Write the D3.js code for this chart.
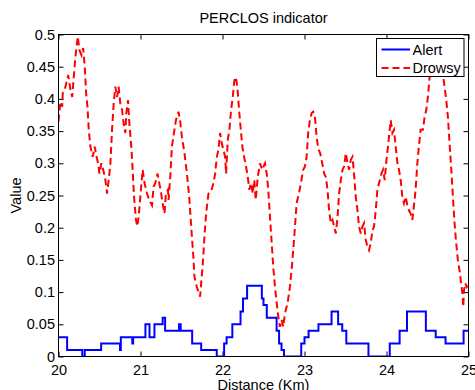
<!DOCTYPE html>
<html>
<head>
<meta charset="utf-8">
<script src="https://cdn.jsdelivr.net/npm/d3@7"></script>
<style>
  body { margin: 0; background: #fff; }
  text { font-family: "Liberation Sans", Arial, Helvetica, sans-serif; }
</style>
</head>
<body>
<svg id="chart"></svg>
<script>
const width = 475;
const height = 390;
const margin = {top: 34.5, right: 6.5, bottom: 33.5, left: 58.5};
const fontSize = "14.5px";

const titleText = "PERCLOS indicator";
const xLabel = "Distance (Km)";
const yLabel = "Value";
const seriesNames = ["Alert", "Drowsy"];
const xTicks = [20, 21, 22, 23, 24, 25];
const yTicks = [0, 0.05, 0.1, 0.15, 0.2, 0.25, 0.3, 0.35, 0.4, 0.45, 0.5];

// Alert: step function, value holds until the next km
const alertKm = [20.00, 20.105, 20.29, 20.32, 20.52, 20.75, 20.76, 20.90, 20.91, 21.06, 21.11, 21.17, 21.27, 21.30,
  21.47, 21.49, 21.63, 21.74, 21.93, 22.02, 22.05, 22.12, 22.22, 22.25, 22.30, 22.48, 22.50, 22.54, 22.66, 22.69,
  22.72, 22.75, 22.96, 23.00, 23.05, 23.17, 23.33, 23.41, 23.46, 23.51, 23.78, 24.04, 24.16, 24.25, 24.48, 24.60,
  24.72, 24.94, 25.00];
const alertVal = [0.03, 0.01, 0, 0.01, 0.02, 0.01, 0.03, 0.02, 0.03, 0.05, 0.03, 0.05, 0.06, 0.04,
  0.05, 0.04, 0.02, 0.01, 0, 0.02, 0.03, 0.05, 0.07, 0.09, 0.11, 0.09, 0.08, 0.06, 0.04, 0.02,
  0.01, 0, 0.02, 0.03, 0.04, 0.05, 0.07, 0.05, 0.04, 0.02, 0, 0.02, 0.04, 0.07, 0.04, 0.03,
  0.02, 0.04, 0.04];

const drowsyKm = [20.00, 20.024, 20.045, 20.052, 20.085, 20.118, 20.134, 20.146, 20.167, 20.186, 20.207, 20.235,
  20.255, 20.280, 20.300, 20.320, 20.337, 20.353, 20.369, 20.389, 20.417, 20.442, 20.459, 20.483, 20.499, 20.523,
  20.551, 20.572, 20.592, 20.612, 20.633, 20.653, 20.673, 20.693, 20.714, 20.733, 20.754, 20.775, 20.794, 20.815,
  20.827, 20.848, 20.864, 20.888, 20.904, 20.921, 20.945, 20.961, 20.977, 20.998, 21.026, 21.05, 21.079, 21.107,
  21.14, 21.16, 21.18, 21.208, 21.229, 21.253, 21.269, 21.293, 21.31, 21.335, 21.342, 21.363, 21.383, 21.408,
  21.432, 21.464, 21.484, 21.505, 21.536, 21.566, 21.594, 21.618, 21.642, 21.658, 21.687, 21.707, 21.727, 21.74,
  21.76, 21.78, 21.80, 21.829, 21.861, 21.89, 21.91, 21.931, 21.95, 21.971, 21.991, 22.011, 22.032, 22.044,
  22.064, 22.084, 22.105, 22.125, 22.145, 22.162, 22.181, 22.202, 22.223, 22.242, 22.263, 22.287, 22.308, 22.327,
  22.348, 22.369, 22.388, 22.405, 22.43, 22.457, 22.485, 22.518, 22.539, 22.558, 22.579, 22.60, 22.619, 22.64,
  22.661, 22.68, 22.70, 22.721, 22.741, 22.762, 22.794, 22.822, 22.85, 22.875, 22.904, 22.932, 22.956, 22.984,
  23.005, 23.026, 23.045, 23.066, 23.087, 23.106, 23.127, 23.148, 23.167, 23.191, 23.216, 23.24, 23.26, 23.281,
  23.30, 23.321, 23.342, 23.361, 23.382, 23.403, 23.422, 23.443, 23.464, 23.483, 23.504, 23.524, 23.544, 23.564,
  23.585, 23.604, 23.625, 23.646, 23.665, 23.686, 23.707, 23.726, 23.747, 23.768, 23.787, 23.808, 23.829, 23.848,
  23.869, 23.889, 23.909, 23.938, 23.958, 23.978, 23.999, 24.018, 24.039, 24.051, 24.072, 24.091, 24.112, 24.133,
  24.152, 24.173, 24.193, 24.213, 24.234, 24.254, 24.273, 24.294, 24.315, 24.334, 24.355, 24.376, 24.395, 24.416,
  24.444, 24.465, 24.485, 24.505, 24.526, 24.55, 24.6, 24.65, 24.687, 24.708, 24.729, 24.749, 24.769, 24.79,
  24.81, 24.83, 24.85, 24.87, 24.89, 24.91, 24.925, 24.937, 24.945, 24.962, 24.978, 24.99];
const drowsyVal = [0.365, 0.396, 0.388, 0.409, 0.419, 0.437, 0.424, 0.414, 0.403, 0.434, 0.466, 0.497,
  0.476, 0.468, 0.479, 0.45, 0.409, 0.388, 0.352, 0.326, 0.31, 0.326, 0.313, 0.30, 0.284, 0.30,
  0.287, 0.274, 0.253, 0.274, 0.30, 0.352, 0.393, 0.419, 0.403, 0.419, 0.393, 0.383, 0.362, 0.347,
  0.378, 0.398, 0.362, 0.326, 0.29, 0.248, 0.212, 0.202, 0.217, 0.248, 0.29, 0.269, 0.253, 0.243,
  0.235, 0.264, 0.269, 0.284, 0.269, 0.253, 0.238, 0.222, 0.253, 0.259, 0.243, 0.279, 0.326, 0.347,
  0.367, 0.38, 0.365, 0.341, 0.316, 0.284, 0.248, 0.202, 0.16, 0.124, 0.108, 0.10, 0.093, 0.114,
  0.145, 0.186, 0.222, 0.253, 0.256, 0.269, 0.284, 0.31, 0.321, 0.347, 0.331, 0.321, 0.31, 0.284,
  0.336, 0.352, 0.383, 0.403, 0.429, 0.434, 0.419, 0.383, 0.352, 0.326, 0.31, 0.295, 0.279, 0.259,
  0.269, 0.253, 0.274, 0.243, 0.279, 0.30, 0.29, 0.30, 0.284, 0.259, 0.217, 0.176, 0.139, 0.108,
  0.083, 0.062, 0.046, 0.057, 0.046, 0.067, 0.083, 0.108, 0.145, 0.186, 0.238, 0.253, 0.269, 0.29,
  0.295, 0.31, 0.347, 0.367, 0.378, 0.38, 0.372, 0.341, 0.323, 0.316, 0.30, 0.284, 0.279, 0.259,
  0.227, 0.207, 0.212, 0.202, 0.191, 0.217, 0.253, 0.274, 0.29, 0.295, 0.316, 0.30, 0.29, 0.305,
  0.31, 0.284, 0.248, 0.227, 0.202, 0.191, 0.202, 0.207, 0.181, 0.17, 0.165, 0.176, 0.196, 0.202,
  0.227, 0.259, 0.269, 0.284, 0.29, 0.274, 0.305, 0.326, 0.352, 0.367, 0.347, 0.352, 0.326, 0.30,
  0.29, 0.274, 0.248, 0.238, 0.248, 0.235, 0.227, 0.222, 0.212, 0.233, 0.259, 0.30, 0.326, 0.352,
  0.352, 0.372, 0.383, 0.403, 0.434, 0.46, 0.47, 0.46, 0.44, 0.419, 0.398, 0.372, 0.331, 0.29,
  0.248, 0.207, 0.176, 0.15, 0.134, 0.114, 0.098, 0.077, 0.103, 0.114, 0.108, 0.11];

const colors = ["#0000ff", "#ff0000"];

const x = d3.scaleLinear([20, 25], [margin.left, width - margin.right]);
const y = d3.scaleLinear([0, 0.5], [height - margin.bottom, margin.top]);
const fmt = d => String(+d.toFixed(2));

const svg = d3.select("#chart")
    .attr("width", width)
    .attr("height", height)
    .attr("viewBox", [0, 0, width, height]);

svg.append("defs").append("clipPath").attr("id", "plotClip")
  .append("rect")
    .attr("x", margin.left).attr("y", margin.top)
    .attr("width", x(25) - x(20)).attr("height", y(0) - y(0.5));

// axes (ticks point inward, mirrored on top/right like matlab)
function styleAxis(g) {
  g.select(".domain").remove();
  g.selectAll(".tick line").attr("stroke", "#000");
  g.selectAll("text")
    .attr("fill", "#000")
    .attr("font-size", fontSize)
    .attr("font-family", "Liberation Sans, Arial, Helvetica, sans-serif");
}

svg.append("g")
    .attr("transform", `translate(0,${y(0)})`)
    .call(d3.axisBottom(x).tickValues(xTicks).tickSize(-5).tickPadding(8).tickFormat(d3.format("d")))
    .call(styleAxis);
svg.append("g")
    .attr("transform", `translate(0,${y(0.5)})`)
    .call(d3.axisTop(x).tickValues(xTicks).tickSize(-5).tickFormat(""))
    .call(styleAxis);
svg.append("g")
    .attr("transform", `translate(${x(20)},0)`)
    .call(d3.axisLeft(y).tickValues(yTicks).tickSize(-5).tickPadding(3.5).tickFormat(fmt))
    .call(styleAxis);
svg.append("g")
    .attr("transform", `translate(${x(25)},0)`)
    .call(d3.axisRight(y).tickValues(yTicks).tickSize(-5).tickFormat(""))
    .call(styleAxis);

const alert = alertKm.map((k, i) => [k, alertVal[i]]);
const drowsy = drowsyKm.map((k, i) => [k, drowsyVal[i]]);

const plot = svg.append("g").attr("clip-path", "url(#plotClip)");
plot.append("path")
    .datum(alert)
    .attr("fill", "none")
    .attr("stroke", colors[0])
    .attr("stroke-width", 2)
    .attr("d", d3.line().curve(d3.curveStepAfter).x(d => x(d[0])).y(d => y(d[1])));
plot.append("path")
    .datum(drowsy)
    .attr("fill", "none")
    .attr("stroke", colors[1])
    .attr("stroke-width", 2)
    .attr("stroke-dasharray", "7,4")
    .attr("d", d3.line().x(d => x(d[0])).y(d => y(d[1])));

// box
svg.append("rect")
    .attr("x", x(20)).attr("y", y(0.5))
    .attr("width", x(25) - x(20)).attr("height", y(0) - y(0.5))
    .attr("fill", "none").attr("stroke", "#000").attr("stroke-width", 1);

// title and labels
svg.append("text")
    .attr("x", (x(20) + x(25)) / 2).attr("y", 23)
    .attr("text-anchor", "middle").attr("font-size", fontSize)
    .text(titleText);
svg.append("text")
    .attr("x", (x(20) + x(25)) / 2).attr("y", 389.5)
    .attr("text-anchor", "middle").attr("font-size", fontSize)
    .text(xLabel);
svg.append("text")
    .attr("transform", `translate(21,${(y(0) + y(0.5)) / 2}) rotate(-90)`)
    .attr("text-anchor", "middle").attr("font-size", fontSize)
    .text(yLabel);

// legend
const legend = svg.append("g").attr("transform", "translate(376.5,38.5)");
legend.append("rect")
    .attr("width", 87.5).attr("height", 38)
    .attr("fill", "#fff").attr("stroke", "#000").attr("stroke-width", 1);
seriesNames.forEach((name, i) => {
  let row = legend.append("g").attr("transform", `translate(0,${11 + i * 18.5})`);
  row.append("line")
      .attr("x1", 5).attr("x2", 33.5)
      .attr("stroke", colors[i]).attr("stroke-width", 2)
      .attr("stroke-dasharray", i == 1 ? "7,4" : null);
  row.append("text")
      .attr("x", 36).attr("dy", "0.36em")
      .attr("font-size", fontSize)
      .text(name);
});
</script>
</body>
</html>
